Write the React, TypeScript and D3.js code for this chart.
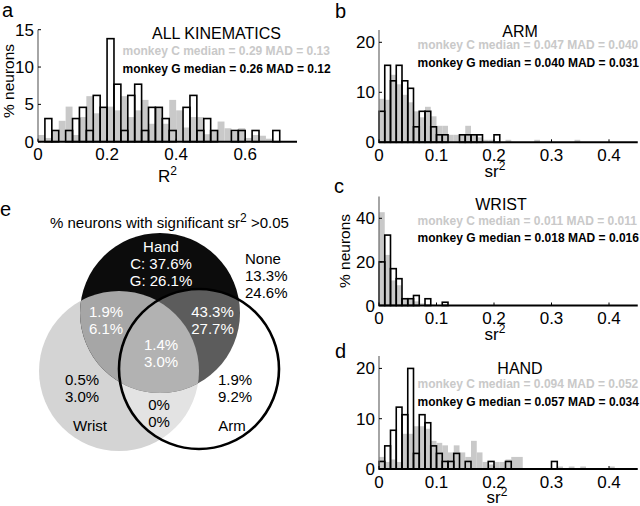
import React from "react";
import * as d3 from "d3";

const FONT = "'Liberation Sans', Arial, Helvetica, sans-serif";
const GRAY = "#c9c9c9";

// ---------- DATA ----------
// Panel a: R^2, bins of 0.02 starting at 0
const aBinWidth = 0.02;
const aGrayC = [0.9, 0.5, 1.4, 2.8, 4.7, 0.9, 3.3, 6.1, 3.8, 4.5, 4.7, 4.2, 6.1, 3.3, 4.2, 5.6, 2.4, 4.5, 2.4, 5.6, 4.2, 1.9, 3.3, 3.3, 1.0, 1.5, 2.7, 1.8, 1.3, 1.8, 0.5, 0.9, 0.8, 0.4];
const aBlackG = [0, 3.1, 1.5, 0, 1.5, 3.1, 4.6, 1.5, 6.2, 4.6, 13.8, 7.7, 1.5, 6.2, 7.7, 1.5, 4.6, 4.6, 3.1, 1.5, 0, 4.6, 6.2, 1.5, 3.1, 1.5, 0, 0, 1.5, 1.5, 0, 1.5, 0, 0, 1.5];

// Panels b, c, d: sr^2, bins of 0.01 starting at 0
const srBinWidth = 0.01;
const bGrayC = [8.7, 8.5, 13.5, 11.6, 9.5, 8.0, 6.2, 5.0, 7.1, 5.2, 3.3, 3.3, 1.5, 1.5, 1.5, 3.3, 1.5, 1.0, 0.5, 0.5, 0, 0, 0.5, 0, 0, 0, 0, 0.5, 0, 0, 0, 0, 0, 0, 0.5];
const bBlackG = [6.2, 15.4, 12.3, 15.4, 12.3, 10.8, 3.1, 6.2, 6.2, 3.1, 1.5, 1.5, 0, 0, 1.5, 1.5, 1.5, 1.5, 0, 0, 1.5];
const cGrayC = [42.8, 23.2, 11.5, 9.3, 3.3, 2.8, 1.9, 1.0, 0.5, 0.5, 0, 0.5];
const cBlackG = [20.0, 32.3, 16.9, 12.3, 3.1, 3.1, 4.6, 0, 3.1, 0, 0, 1.5];
const dGrayC = [2.4, 1.4, 1.9, 1.4, 7.0, 7.0, 8.5, 8.5, 8.0, 5.6, 5.2, 4.7, 3.3, 4.7, 3.3, 2.4, 5.6, 3.3, 1.4, 0.9, 1.4, 1.4, 1.9, 2.4, 2.4, 0, 0, 0, 0, 0, 0, 0.5, 0, 0.5, 0, 0.5, 0, 0, 0, 0, 0.5];
const dBlackG = [1.5, 4.6, 7.7, 12.3, 10.8, 20.0, 3.1, 10.8, 9.2, 4.6, 3.1, 1.5, 1.5, 3.1, 0, 1.5, 0, 0, 0, 1.5, 0, 0, 1.5, 0, 0, 0, 0, 0, 0, 0, 1.5];

// Ticks
const aXTicks = [0, 0.2, 0.4, 0.6];
const aYTicks = [0, 5, 10, 15];
const srXTicks = [0, 0.1, 0.2, 0.3, 0.4];
const bYTicks = [0, 10, 20];
const cYTicks = [0, 20, 40];
const dYTicks = [0, 10, 20];

// Texts
const panelTitles = ["ALL KINEMATICS", "ARM", "WRIST", "HAND"];
const statsC = [
  "monkey C median = 0.29 MAD = 0.13",
  "monkey C median = 0.047 MAD = 0.040",
  "monkey C median = 0.011 MAD = 0.011",
  "monkey C median = 0.094 MAD = 0.052",
];
const statsG = [
  "monkey G median = 0.26 MAD = 0.12",
  "monkey G median = 0.040 MAD = 0.031",
  "monkey G median = 0.018 MAD = 0.016",
  "monkey G median = 0.057 MAD = 0.034",
];

// Venn labels
const vennHand = ["Hand", "C: 37.6%", "G: 26.1%"];
const vennNone = ["None", "13.3%", "24.6%"];
const vennHandWrist = ["1.9%", "6.1%"];
const vennHandArm = ["43.3%", "27.7%"];
const vennAll = ["1.4%", "3.0%"];
const vennWrist = ["0.5%", "3.0%"];
const vennWristArm = ["0%", "0%"];
const vennArm = ["1.9%", "9.2%"];

// ---------- LAYOUT ----------
type HistCfg = {
  left: number; right: number; top: number; bottom: number;
  xMax: number; yMax: number; binW: number;
  gray: number[]; black: number[];
  xTicks: number[]; yTicks: number[];
  title: string; titleX: number; titleY: number;
  statC: string; statG: string; statX: number; statCY: number; statGY: number;
  xLabel: string; xLabelX: number; xLabelY: number;
  yLabel?: { x: number; y: number };
};

function fmtX(d: number) {
  return d === 0 ? "0" : d.toFixed(1);
}

function Hist(p: HistCfg) {
  const x = d3.scaleLinear().domain([0, p.xMax]).range([p.left, p.right]);
  const y = d3.scaleLinear().domain([0, p.yMax]).range([p.bottom, p.top]);
  const y0 = y(0);
  const x0 = x(0);
  return (
    <g>
      {p.gray.map((v, i) =>
        v > 0 ? (
          <rect
            key={"g" + i}
            x={x(i * p.binW)}
            width={x((i + 1) * p.binW) - x(i * p.binW)}
            y={y(v)}
            height={y0 - y(v)}
            fill={GRAY}
          />
        ) : null
      )}
      {p.black.map((v, i) =>
        v > 0 ? (
          <rect
            key={"b" + i}
            x={x(i * p.binW)}
            width={x((i + 1) * p.binW) - x(i * p.binW)}
            y={y(v)}
            height={y0 - y(v)}
            fill="none"
            stroke="#000"
            strokeWidth={1.6}
          />
        ) : null
      )}
      <line x1={x0} x2={x0} y1={y0} y2={p.top} stroke="#6a6a6a" strokeWidth={1.2} />
      <line x1={x0} x2={p.right} y1={y0} y2={y0} stroke="#000" strokeWidth={2} />
      {p.xTicks.map((t) => (
        <g key={"xt" + t}>
          <line x1={x(t)} x2={x(t)} y1={y0} y2={y0 - 3} stroke="#000" strokeWidth={1} />
          <text x={x(t)} y={y0 + 18.5} textAnchor="middle" fontSize={17} fontFamily={FONT}>
            {fmtX(t)}
          </text>
        </g>
      ))}
      {p.yTicks.map((t) => (
        <g key={"yt" + t}>
          <line x1={x0} x2={x0 + 3} y1={y(t)} y2={y(t)} stroke="#000" strokeWidth={1} />
          <text x={x0 - 4} y={y(t) + 6} textAnchor="end" fontSize={17} fontFamily={FONT}>
            {t}
          </text>
        </g>
      ))}
      <text x={p.titleX} y={p.titleY} textAnchor="middle" fontSize={16} fontFamily={FONT}>
        {p.title}
      </text>
      <text x={p.statX} y={p.statCY} fontSize={12} fontWeight="bold" fontFamily={FONT} fill={GRAY}>
        {p.statC}
      </text>
      <text x={p.statX} y={p.statGY} fontSize={12} fontWeight="bold" fontFamily={FONT} fill="#000">
        {p.statG}
      </text>
      <text x={p.xLabelX} y={p.xLabelY} textAnchor="middle" fontSize={17} fontFamily={FONT}>
        {p.xLabel}
        <tspan dy={-7} fontSize={12}>2</tspan>
      </text>
      {p.yLabel ? (
        <text
          transform={`translate(${p.yLabel.x},${p.yLabel.y}) rotate(-90)`}
          textAnchor="middle"
          fontSize={15.5}
          fontFamily={FONT}
        >
          % neurons
        </text>
      ) : null}
    </g>
  );
}

const panels: HistCfg[] = [
  {
    left: 38, right: 297, top: 29.7, bottom: 141.7, xMax: 0.75, yMax: 15, binW: aBinWidth,
    gray: aGrayC, black: aBlackG, xTicks: aXTicks, yTicks: aYTicks,
    title: panelTitles[0], titleX: 216.5, titleY: 38.5,
    statC: statsC[0], statG: statsG[0], statX: 122.5, statCY: 55, statGY: 73,
    xLabel: "R", xLabelX: 167.5, xLabelY: 182, yLabel: { x: 14, y: 81 },
  },
  {
    left: 379, right: 637.75, top: 30, bottom: 142.3, xMax: 0.45, yMax: 22.46, binW: srBinWidth,
    gray: bGrayC, black: bBlackG, xTicks: srXTicks, yTicks: bYTicks,
    title: panelTitles[1], titleX: 520, titleY: 37,
    statC: statsC[1], statG: statsG[1], statX: 417.5, statCY: 49, statGY: 67,
    xLabel: "sr", xLabelX: 495, xLabelY: 176.5,
  },
  {
    left: 379, right: 637.75, top: 196.5, bottom: 305.5, xMax: 0.45, yMax: 50, binW: srBinWidth,
    gray: cGrayC, black: cBlackG, xTicks: srXTicks, yTicks: cYTicks,
    title: panelTitles[2], titleX: 501, titleY: 210,
    statC: statsC[2], statG: statsG[2], statX: 417.5, statCY: 225, statGY: 242,
    xLabel: "sr", xLabelX: 495, xLabelY: 339.5, yLabel: { x: 350, y: 251 },
  },
  {
    left: 379, right: 637.75, top: 356, bottom: 469, xMax: 0.45, yMax: 22.47, binW: srBinWidth,
    gray: dGrayC, black: dBlackG, xTicks: srXTicks, yTicks: dYTicks,
    title: panelTitles[3], titleX: 520, titleY: 374,
    statC: statsC[3], statG: statsG[3], statX: 417.5, statCY: 388, statGY: 406,
    xLabel: "sr", xLabelX: 497, xLabelY: 503,
  },
];

const panelLetters = [
  { t: "a", x: 2, y: 17 },
  { t: "b", x: 335, y: 18 },
  { t: "c", x: 334, y: 193 },
  { t: "d", x: 335, y: 358 },
  { t: "e", x: 0, y: 216 },
];

const R = 80;
const HAND = { cx: 160, cy: 313 };
const WRIST = { cx: 119, cy: 371 };
const ARM = { cx: 199, cy: 369 };

function Lines({ lines, x, y, fill, anchor = "middle", lh = 17.3 }: { lines: string[]; x: number; y: number; fill: string; anchor?: string; lh?: number }) {
  return (
    <text x={x} y={y} textAnchor={anchor as any} fontSize={15} fontFamily={FONT} fill={fill}>
      {lines.map((l, i) => (
        <tspan key={i} x={x} dy={i === 0 ? 0 : lh}>
          {l}
        </tspan>
      ))}
    </text>
  );
}

function Venn() {
  return (
    <g>
      <defs>
        <clipPath id="cpHand">
          <circle cx={HAND.cx} cy={HAND.cy} r={R} />
        </clipPath>
        <clipPath id="cpArm">
          <circle cx={ARM.cx} cy={ARM.cy} r={R} />
        </clipPath>
      </defs>
      <text x={50} y={228} fontSize={15} fontFamily={FONT}>
        % neurons with significant sr
        <tspan dy={-6} fontSize={12}>2</tspan>
        <tspan dy={6}> &gt;0.05</tspan>
      </text>
      <circle cx={WRIST.cx} cy={WRIST.cy} r={R} fill="#d4d4d4" />
      <circle cx={HAND.cx} cy={HAND.cy} r={R} fill="#0c0c0c" />
      <circle cx={WRIST.cx} cy={WRIST.cy} r={R} fill="#a6a6a6" clipPath="url(#cpHand)" />
      <circle cx={ARM.cx} cy={ARM.cy} r={R} fill="#ffffff" />
      <g clipPath="url(#cpArm)">
        <circle cx={WRIST.cx} cy={WRIST.cy} r={R} fill="#e3e3e3" />
        <circle cx={HAND.cx} cy={HAND.cy} r={R} fill="#5c5c5c" />
        <g clipPath="url(#cpHand)">
          <circle cx={WRIST.cx} cy={WRIST.cy} r={R} fill="#b2b2b2" />
        </g>
      </g>
      <circle cx={ARM.cx} cy={ARM.cy} r={R} fill="none" stroke="#000" strokeWidth={2.6} />

      <Lines lines={vennHand} x={161} y={251.5} fill="#fff" />
      <Lines lines={vennNone} x={245} y={263.5} fill="#000" anchor="start" />
      <Lines lines={vennHandWrist} x={106} y={317} fill="#fff" />
      <Lines lines={vennHandArm} x={212.5} y={317} fill="#fff" />
      <Lines lines={vennAll} x={161} y={350} fill="#fff" />
      <Lines lines={vennWrist} x={82} y={385} fill="#000" />
      <text x={90} y={431} textAnchor="middle" fontSize={15} fontFamily={FONT}>Wrist</text>
      <Lines lines={vennWristArm} x={159} y={410} fill="#000" lh={16.5} />
      <Lines lines={vennArm} x={235} y={385} fill="#000" />
      <text x={232} y={431} textAnchor="middle" fontSize={15} fontFamily={FONT}>Arm</text>
    </g>
  );
}

export default function App() {
  return (
    <svg
      width={640}
      height={506}
      viewBox="0 0 640 506"
      style={{ position: "absolute", left: 0, top: 0, background: "#fff" }}
    >
      <rect x={0} y={0} width={640} height={506} fill="#fff" />
      {panels.map((p, i) => (
        <Hist key={i} {...p} />
      ))}
      {panelLetters.map((l) => (
        <text key={l.t} x={l.x} y={l.y} fontSize={20} fontFamily={FONT}>
          {l.t}
        </text>
      ))}
      <Venn />
    </svg>
  );
}
